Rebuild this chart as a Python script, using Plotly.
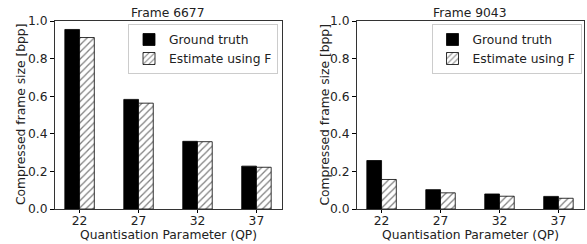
import plotly.graph_objects as go

qp_labels = ["22", "27", "32", "37"]
frame_titles = ["Frame 6677", "Frame 9043"]
series_names = ["Ground truth", "Estimate using F"]
x_title = "Quantisation Parameter (QP)"
y_title = "Compressed frame size [bpp]"

gt_6677 = [0.955, 0.583, 0.360, 0.228]
est_6677 = [0.912, 0.563, 0.358, 0.222]
gt_9043 = [0.258, 0.103, 0.080, 0.067]
est_9043 = [0.157, 0.086, 0.068, 0.057]

W, H = 587, 244
FONT = "DejaVu Sans"
FS = 12.3
TXT = "#222"

fig = go.Figure()

panels = [
    (gt_6677, est_6677, "x", "y", "legend"),
    (gt_9043, est_9043, "x2", "y2", "legend2"),
]
for gt, est, xa, ya, lg in panels:
    fig.add_trace(go.Bar(
        x=qp_labels, y=gt, name=series_names[0], xaxis=xa, yaxis=ya, legend=lg,
        marker=dict(color="black", line=dict(color="black", width=0.8)),
    ))
    fig.add_trace(go.Bar(
        x=qp_labels, y=est, name=series_names[1], xaxis=xa, yaxis=ya, legend=lg,
        marker=dict(color="white", line=dict(color="black", width=0.8),
                    pattern=dict(shape="/", fgcolor="black", bgcolor="white",
                                 size=5, solidity=0.25)),
    ))

def px_x(p):
    return p / W

def px_y(p):
    return (H - p) / H

dom1 = [px_x(54.5), px_x(281.5)]
dom2 = [px_x(356.5), px_x(583.5)]
ydom = [px_y(209), px_y(21)]

xcommon = dict(type="category", range=[-0.425, 3.425], ticks="outside", ticklen=3.5,
               tickwidth=0.8, tickcolor="black", showline=True, linecolor="#333",
               linewidth=0.9, mirror=True, showgrid=False, zeroline=False,
               automargin=False, ticklabelstandoff=-3,
               tickfont=dict(family=FONT, size=FS, color=TXT))
ycommon = dict(range=[0, 1.0], dtick=0.2, tickformat=".1f", ticks="outside", ticklen=3.5,
               tickwidth=0.8, tickcolor="black", showline=True, linecolor="#333",
               linewidth=0.9, mirror=True, showgrid=False, zeroline=False,
               automargin=False, tickfont=dict(family=FONT, size=FS, color=TXT))

legcommon = dict(font=dict(family=FONT, size=FS, color=TXT), bgcolor="white",
                 bordercolor="#cccccc", borderwidth=1, xanchor="left", yanchor="top",
                 tracegroupgap=0, itemwidth=30)

def ann(text, x, y, angle=0):
    return dict(text=text, x=x, y=y, xref="paper", yref="paper", showarrow=False,
                xanchor="center", yanchor="middle", textangle=angle,
                font=dict(family=FONT, size=FS, color=TXT))

annotations = []
for dom, title, ytx in [(dom1, frame_titles[0], 21.0), (dom2, frame_titles[1], 324.5)]:
    cx = (dom[0] + dom[1]) / 2
    annotations.append(ann(title, cx, px_y(13)))
    annotations.append(ann(x_title, cx, px_y(234.5)))
    annotations.append(ann(y_title, px_x(ytx), px_y(115), angle=-90))

fig.update_layout(
    width=W, height=H,
    margin=dict(l=0, r=0, t=0, b=0, autoexpand=False),
    paper_bgcolor="white", plot_bgcolor="white",
    barmode="group", bargap=0.5, bargroupgap=0,
    xaxis=dict(domain=dom1, anchor="y", **xcommon),
    yaxis=dict(domain=ydom, anchor="x", **ycommon),
    xaxis2=dict(domain=dom2, anchor="y2", **xcommon),
    yaxis2=dict(domain=ydom, anchor="x2", **ycommon),
    legend=dict(x=px_x(128), y=px_y(24), **legcommon),
    legend2=dict(x=px_x(431.5), y=px_y(24), **legcommon),
    annotations=annotations,
)

fig.write_html(
    "out.html",
    config={"displayModeBar": False},
    post_script="document.body.style.margin='0';document.body.style.overflow='hidden';",
)
